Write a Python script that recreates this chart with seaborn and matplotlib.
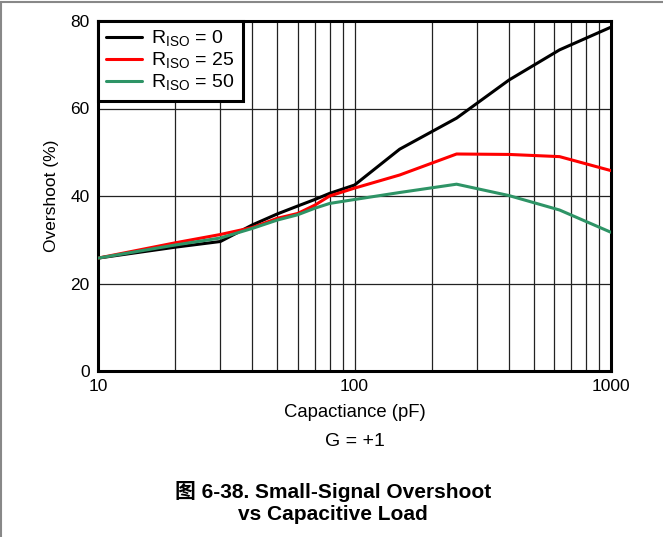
import numpy as np
import pandas as pd
import matplotlib.pyplot as plt
import seaborn as sns
from matplotlib.lines import Line2D
from matplotlib.ticker import FixedLocator, NullFormatter

sns.set_theme(style="white")
plt.rcParams['font.family'] = ['Liberation Sans', 'Noto Sans CJK SC', 'DejaVu Sans']
plt.rcParams['mathtext.fontset'] = 'custom'
plt.rcParams['mathtext.rm'] = 'Liberation Sans'
plt.rcParams['text.color'] = 'black'
plt.rcParams['axes.labelcolor'] = 'black'

# capacitance (pF) and overshoot (%)
cap = [10, 20, 30, 40, 50, 60, 70, 80, 100, 150, 250, 400, 630, 1000]
riso0 = [25.8, 28.3, 29.6, 33.4, 35.9, 37.7, 39.2, 40.6, 42.5, 50.7, 57.8, 66.5, 73.4, 78.6]
riso25 = [25.8, 29.3, 31.2, 32.8, 34.9, 36.0, 37.9, 40.0, 41.8, 44.8, 49.6, 49.5, 49.0, 45.8]
riso50 = [25.8, 28.8, 30.4, 32.6, 34.5, 35.7, 37.2, 38.3, 39.2, 40.8, 42.7, 40.1, 36.8, 31.7]
labels = [r"R$_{\mathrm{ISO}}$ = 0", r"R$_{\mathrm{ISO}}$ = 25", r"R$_{\mathrm{ISO}}$ = 50"]
colors = ["#000000", "#ff0000", "#2e9466"]

df = pd.DataFrame({
    "Capacitance": cap * 3,
    "Overshoot": riso0 + riso25 + riso50,
    "Series": [labels[0]] * len(cap) + [labels[1]] * len(cap) + [labels[2]] * len(cap),
})

fig = plt.figure(figsize=(6.63, 5.37), dpi=100)
ax = fig.add_axes([98 / 663, 1 - 371 / 537, 513 / 663, 350 / 537])

sns.lineplot(data=df, x="Capacitance", y="Overshoot", hue="Series",
             palette=dict(zip(labels, colors)), linewidth=2.2, ax=ax, zorder=3)

ax.set_xscale("log")
ax.set_xlim(10, 1000)
ax.set_ylim(0, 80)
ax.set_xticks([10, 100, 1000])
ax.set_xticklabels(["10", "100", "1000"])
ax.xaxis.set_minor_locator(FixedLocator([m * d for d in (10, 100) for m in range(2, 10)]))
ax.xaxis.set_minor_formatter(NullFormatter())
ax.set_yticks([0, 20, 40, 60, 80])
ax.grid(which="major", color="#222222", linewidth=0.9)
ax.grid(which="minor", axis="x", color="#222222", linewidth=0.9)
ax.tick_params(which="both", length=0, labelsize=12.5, pad=6, colors="black")
for s in ax.spines.values():
    s.set_linewidth(2.2)
    s.set_color("black")

ax.set_xlabel("Capactiance (pF)", fontsize=13.3, labelpad=7)
ax.set_ylabel("Overshoot (%)", fontsize=12.5, labelpad=8)

leg = ax.legend(loc="upper left", fontsize=14, frameon=True, fancybox=False,
                borderaxespad=0, handlelength=1.85, handletextpad=0.5,
                labelspacing=0.08, borderpad=0.4)
leg.set_title(None)
leg.get_frame().set_edgecolor("black")
leg.get_frame().set_linewidth(2.2)
leg.get_frame().set_alpha(1)
for h in leg.get_lines():
    h.set_linewidth(2.2)

fig.text(355 / 663, 1 - 442 / 537, "G = +1", ha="center", va="center", fontsize=14)
fig.text(333 / 663, 1 - 491 / 537, "图 6-38. Small-Signal Overshoot", ha="center", va="center",
         fontsize=15, fontweight="bold")
fig.text(333 / 663, 1 - 514 / 537, "vs Capacitive Load", ha="center", va="center",
         fontsize=15, fontweight="bold")

fig.add_artist(Line2D([0, 1], [1 - 2 / 537, 1 - 2 / 537], color="#888888", linewidth=1.5))
fig.add_artist(Line2D([0.5 / 663, 0.5 / 663], [0, 1 - 2 / 537], color="#888888", linewidth=1.5))

fig.savefig("out.png", dpi=100)
